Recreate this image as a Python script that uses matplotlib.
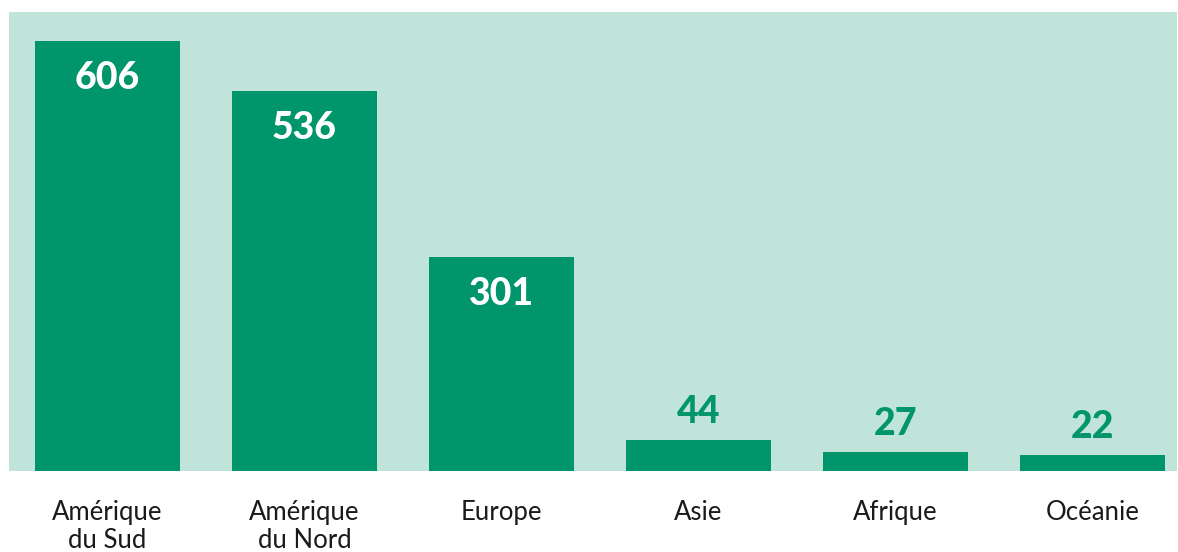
import matplotlib.pyplot as plt

categories = ["Amérique\ndu Sud", "Amérique\ndu Nord", "Europe", "Asie", "Afrique", "Océanie"]
values = [606, 536, 301, 44, 27, 22]

bg = "#c0e4d9"
green = "#00956b"

fig = plt.figure(figsize=(11.78, 5.52), dpi=100)
ax = fig.add_axes([9 / 1178, 1 - 471 / 552, 1168 / 1178, 459 / 552])
ax.set_facecolor(bg)

x = list(range(len(values)))
ax.bar(x, values, width=0.736, color=green)
ax.set_xlim(-0.5, 5.43)
ax.set_ylim(0, 647)

for xi, v in zip(x, values):
    if v > 100:
        ax.annotate(str(v), (xi, v), xytext=(0, -37), textcoords="offset pixels",
                    ha="center", va="center", color="white", fontsize=27,
                    fontweight="black", family="Lato")
    else:
        ax.annotate(str(v), (xi, v), xytext=(0, 28), textcoords="offset pixels",
                    ha="center", va="center", color=green, fontsize=27,
                    fontweight="black", family="Lato")

ax.set_xticks(x)
ax.set_xticklabels(categories, fontsize=18.5, color="#1a1a1a", family="Lato",
                   va="top", linespacing=1.16)
ax.tick_params(axis="x", length=0, pad=21)
ax.set_yticks([])
for s in ax.spines.values():
    s.set_visible(False)

fig.savefig("out.png", dpi=100)
